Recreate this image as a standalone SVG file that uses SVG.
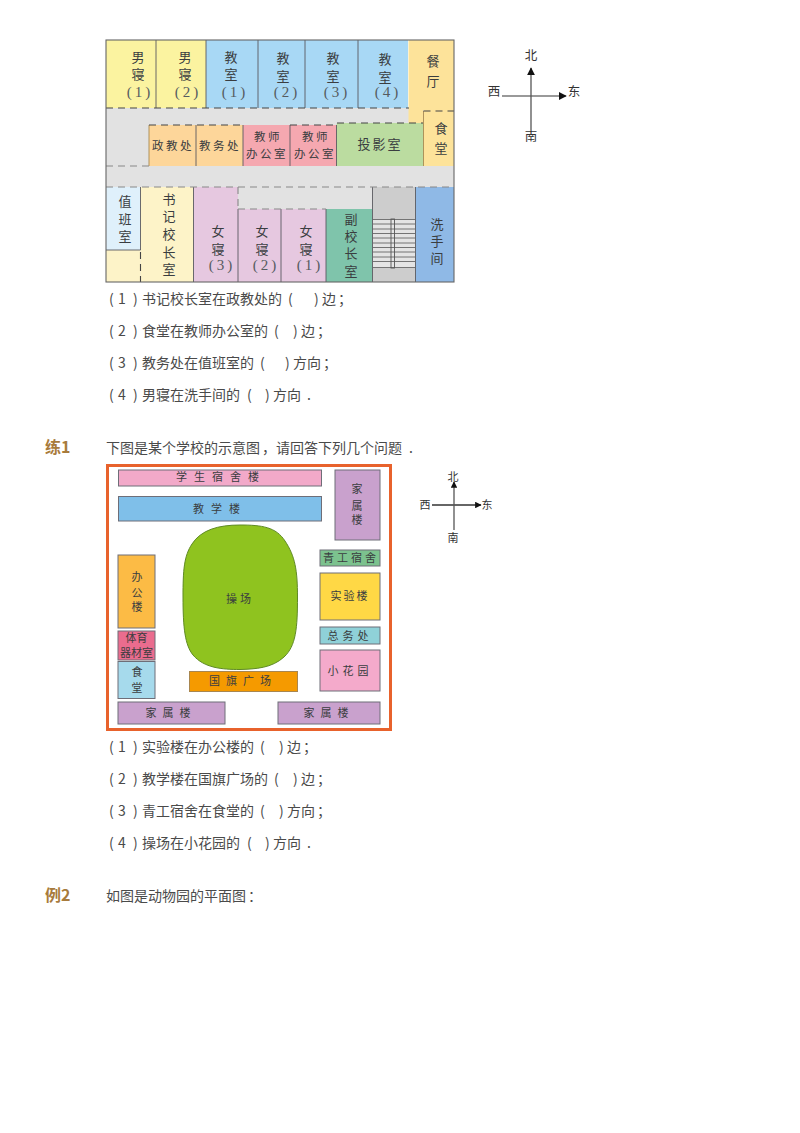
<svg xmlns="http://www.w3.org/2000/svg" width="800" height="1133" viewBox="0 0 800 1133">
<defs>
<marker id="ah" viewBox="0 0 10 10" refX="9" refY="5" markerWidth="8" markerHeight="8" markerUnits="userSpaceOnUse" orient="auto"><path d="M0 0L10 5L0 10Z" fill="#111"/></marker>
<marker id="ah2" viewBox="0 0 10 10" refX="9" refY="5" markerWidth="6.500" markerHeight="6.500" markerUnits="userSpaceOnUse" orient="auto"><path d="M0 0L10 5L0 10Z" fill="#111"/></marker>
</defs>
<style>
text{font-family:"Noto Sans CJK SC","Noto Sans",sans-serif}
.b{font-size:14px;fill:#4a4a4a}
.h{font-size:16px;font-weight:700;fill:#a87b3c}
.l{font-size:13px;fill:#3a3d40;text-anchor:middle}
.m{font-size:11.500px;fill:#3a3d40;text-anchor:middle;letter-spacing:2.500px}
.v{font-size:11px;fill:#3a3d40;text-anchor:middle}
.s{font-size:12.500px;fill:#333;text-anchor:middle}
.n{font-family:"Liberation Serif",serif;font-size:15px;fill:#555b60;letter-spacing:3px}
.r{stroke:#6e6e78;stroke-width:1}
.d{fill:none;stroke:#444;stroke-width:1.100;stroke-dasharray:7 5}
.g{fill:none;stroke:#888;stroke-width:1.100;stroke-dasharray:7 5}
.w{stroke:#5a5a60;stroke-width:.9;fill:none}
</style>
<rect width="800" height="1133" fill="#fff"/>

<g id="plan1">
<rect id="corridor" x="106" y="108" width="348" height="174" fill="#e2e2e2"/>
<g id="room-m1"><rect x="106" y="40" width="50" height="68" fill="#fbf3a0"/><text class="l"><tspan x="138" y="62">男</tspan><tspan x="138" y="79">寝</tspan><tspan class="n" x="140" y="97">(1)</tspan></text></g>
<g id="room-m2"><rect x="156" y="40" width="50" height="68" fill="#fbf3a0"/><text class="l"><tspan x="185" y="62">男</tspan><tspan x="185" y="79">寝</tspan><tspan class="n" x="188" y="97">(2)</tspan></text></g>
<g id="room-c1"><rect x="206" y="40" width="52" height="68" fill="#a8d8f5"/><text class="l"><tspan x="231" y="62">教</tspan><tspan x="231" y="79">室</tspan><tspan class="n" x="235" y="97">(1)</tspan></text></g>
<g id="room-c2"><rect x="258" y="40" width="47" height="68" fill="#a8d8f5"/><text class="l"><tspan x="283" y="63">教</tspan><tspan x="283" y="81">室</tspan><tspan class="n" x="287" y="97">(2)</tspan></text></g>
<g id="room-c3"><rect x="305" y="40" width="53" height="68" fill="#a8d8f5"/><text class="l"><tspan x="333" y="63">教</tspan><tspan x="333" y="81">室</tspan><tspan class="n" x="337" y="97">(3)</tspan></text></g>
<g id="room-c4"><rect x="358" y="40" width="50" height="68" fill="#a8d8f5"/><text class="l"><tspan x="385" y="64">教</tspan><tspan x="385" y="82">室</tspan><tspan class="n" x="388" y="97">(4)</tspan></text></g>
<g id="room-dining"><path d="M408.500 40H454V110H423V123H408.500Z" fill="#fde39a"/><text class="l"><tspan x="433" y="66">餐</tspan><tspan x="433" y="86">厅</tspan></text></g>
<g id="room-canteen"><rect x="423.500" y="110" width="30.500" height="56" fill="#fde39a"/><text class="l"><tspan x="441" y="133">食</tspan><tspan x="441" y="153">堂</tspan></text></g>
<g id="room-zj"><rect x="149" y="125" width="47" height="41" fill="#fdd69a"/><text class="m" x="173" y="150">政教处</text></g>
<g id="room-jw"><rect x="196" y="125" width="47" height="41" fill="#fdd69a"/><text class="m" x="220" y="150">教务处</text></g>
<g id="room-t1"><rect x="243" y="125" width="47" height="41" fill="#f5a8b0"/><text class="m"><tspan x="268" y="141">教师</tspan><tspan x="267" y="158">办公室</tspan></text></g>
<g id="room-t2"><rect x="290" y="125" width="46.500" height="41" fill="#f5a8b0"/><text class="m"><tspan x="316" y="141">教师</tspan><tspan x="315" y="158">办公室</tspan></text></g>
<g id="room-proj"><path d="M336.500 125L337 123H423.500V166H336.500Z" fill="#bbdca0"/><text class="l" x="380" y="149" style="letter-spacing:2px">投影室</text></g>
<g id="room-duty"><rect x="106" y="187" width="34.500" height="63" fill="#dff0fb"/><text class="l"><tspan x="125" y="206">值</tspan><tspan x="125" y="224">班</tspan><tspan x="125" y="241">室</tspan></text></g>
<rect id="room-duty-lower" x="106" y="250" width="34.500" height="32" fill="#fdf3c8"/>
<g id="room-sj"><rect x="140.500" y="187" width="53" height="95" fill="#fdf3c8"/><text class="l"><tspan x="169" y="204">书</tspan><tspan x="169" y="221">记</tspan><tspan x="169" y="239">校</tspan><tspan x="169" y="257">长</tspan><tspan x="169" y="274">室</tspan></text></g>
<g id="room-f3"><rect x="193.500" y="187" width="44.500" height="95" fill="#e6c8e0"/><text class="l"><tspan x="218" y="236">女</tspan><tspan x="218" y="254">寝</tspan><tspan class="n" x="222" y="270">(3)</tspan></text></g>
<g id="room-f2"><rect x="238" y="209" width="43" height="73" fill="#e6c8e0"/><text class="l"><tspan x="262" y="236">女</tspan><tspan x="262" y="254">寝</tspan><tspan class="n" x="266" y="270">(2)</tspan></text></g>
<g id="room-f1"><rect x="281" y="209" width="45" height="73" fill="#e6c8e0"/><text class="l"><tspan x="306" y="236">女</tspan><tspan x="306" y="254">寝</tspan><tspan class="n" x="310" y="270">(1)</tspan></text></g>
<g id="room-fx"><rect x="326" y="209" width="46.500" height="73" fill="#7fc4ab"/><text class="l"><tspan x="351" y="224">副</tspan><tspan x="351" y="241">校</tspan><tspan x="351" y="258">长</tspan><tspan x="351" y="276">室</tspan></text></g>
<g id="stairs"><rect x="372.500" y="187" width="43" height="95" fill="#cdcdcd"/>
<rect x="373" y="219" width="42" height="49" fill="#e4e4e4"/>
<path d="M373 219.500H415M373 224H415M373 229H415M373 233.500H415M373 238H415M373 243H415M373 247.500H415M373 252H415M373 257H415M373 261.500H415M373 267.500H415" stroke="#666" stroke-width=".9" fill="none"/>
<rect x="391" y="219" width="3.500" height="49" fill="none" stroke="#555" stroke-width=".9"/></g>
<g id="room-wc"><rect x="415.500" y="187" width="38.500" height="95" fill="#8fb9e6"/><text class="l"><tspan x="437" y="229">洗</tspan><tspan x="437" y="246">手</tspan><tspan x="437" y="263">间</tspan></text></g>
<g id="walls">
<path class="w" d="M156 40V108M206 40V108M258 40V108M305 40V108M358 40V108M196 125V166M243 125V166M290 125V166M336.500 125V166M140.500 250V187M106 250H140.500M193.500 187V282M238 209V282M281 209V282M326 209V282M372.500 187V282M415.500 187V282"/>
<path d="M149 125V166M423.500 111V166" fill="none" stroke="#a88a50" stroke-width=".9"/>
<path class="d" d="M106 108H409M149 125H243M290 125H337M337 123H423M423.500 111H454"/>
<path class="d" d="M140.500 252V282"/>
<path class="g" d="M106 166H149M106 187H454M238 187V209M238 209H326"/>
<rect x="106" y="40" width="348" height="242" fill="none" stroke="#666" stroke-width="1.100"/>
</g>
</g>

<g id="compass1" class="connectors">
<path d="M502 96H566" stroke="#777" stroke-width="1.300" marker-end="url(#ah)" fill="none"/>
<path d="M531 130V68" stroke="#555" stroke-width="1.300" marker-end="url(#ah)" fill="none"/>
<text class="s" x="531" y="60">北</text><text class="s" x="494" y="96">西</text><text class="s" x="574" y="96">东</text><text class="s" x="531" y="141">南</text>
</g>

<g id="q1">
<text class="b" y="304"><tspan x="109">(</tspan><tspan x="118">1</tspan><tspan x="133">)</tspan><tspan x="142">书记校长室在政教处的</tspan><tspan x="288">(</tspan><tspan x="314">)</tspan><tspan x="322">边</tspan><tspan x="338">；</tspan></text>
<text class="b" y="336"><tspan x="109">(</tspan><tspan x="118">2</tspan><tspan x="133">)</tspan><tspan x="142">食堂在教师办公室的</tspan><tspan x="274">(</tspan><tspan x="293">)</tspan><tspan x="301">边</tspan><tspan x="317">；</tspan></text>
<text class="b" y="368"><tspan x="109">(</tspan><tspan x="118">3</tspan><tspan x="133">)</tspan><tspan x="142">教务处在值班室的</tspan><tspan x="260">(</tspan><tspan x="285">)</tspan><tspan x="293">方向</tspan><tspan x="323">；</tspan></text>
<text class="b" y="400"><tspan x="109">(</tspan><tspan x="118">4</tspan><tspan x="133">)</tspan><tspan x="142">男寝在洗手间的</tspan><tspan x="247">(</tspan><tspan x="265">)</tspan><tspan x="273">方向</tspan><tspan x="307">.</tspan></text>
</g>

<text class="h" x="45" y="453">练1</text>
<text class="b" y="453"><tspan x="106">下图是某个学校的示意图</tspan><tspan x="262">，</tspan><tspan x="276">请回答下列几个问题</tspan><tspan x="409">.</tspan></text>

<g id="plan2">
<rect id="frame" x="107.500" y="465.500" width="283" height="264" fill="#fff" stroke="#e8622c" stroke-width="3"/>
<g id="b-dorm"><rect class="r" x="118.500" y="470" width="203" height="16" fill="#f2a9c9"/><text class="v" x="221" y="481" style="letter-spacing:7px">学生宿舍楼</text></g>
<g id="b-teach"><rect class="r" x="118.500" y="496.500" width="203" height="24.500" fill="#7fbfe9"/><text class="v" x="220" y="513" style="letter-spacing:7px">教学楼</text></g>
<g id="b-fam1"><rect class="r" x="335" y="470" width="45" height="70" fill="#c9a1cd"/><text class="v"><tspan x="357" y="493">家</tspan><tspan x="357" y="510">属</tspan><tspan x="357" y="524">楼</tspan></text></g>
<g id="b-young"><rect class="r" x="320" y="550" width="60" height="16" fill="#7cc28e"/><text class="v" x="351" y="562" style="letter-spacing:3px">青工宿舍</text></g>
<g id="b-lab"><rect class="r" x="320" y="573" width="60" height="47" fill="#ffd845"/><text class="v" x="350" y="600" style="letter-spacing:2px">实验楼</text></g>
<g id="b-office2"><rect class="r" x="320" y="627" width="60" height="17" fill="#8fd1d8"/><text class="v" x="350" y="640" style="letter-spacing:4px">总务处</text></g>
<g id="b-garden"><rect class="r" x="320" y="650" width="60" height="41" fill="#f4aacb"/><text class="v" x="350" y="675" style="letter-spacing:4px">小花园</text></g>
<g id="b-fam3"><rect class="r" x="278" y="702" width="102" height="22" fill="#c9a1cd"/><text class="v" x="329" y="717" style="letter-spacing:6px">家属楼</text></g>
<g id="b-fam2"><rect class="r" x="118" y="702" width="107" height="22" fill="#c9a1cd"/><text class="v" x="171" y="717" style="letter-spacing:6px">家属楼</text></g>
<g id="b-flag"><rect x="189.500" y="671.500" width="108" height="20" fill="#f59a00" stroke="#a8864f"/><text class="v" x="243" y="685" style="letter-spacing:6px">国旗广场</text></g>
<g id="b-canteen"><rect class="r" x="118" y="661.500" width="37" height="37" fill="#a6daec"/><text class="v"><tspan x="137" y="676">食</tspan><tspan x="137" y="692">堂</tspan></text></g>
<g id="b-gym"><rect class="r" x="118" y="631" width="37" height="29" fill="#ea6c8e"/><text class="v"><tspan x="136.500" y="642">体育</tspan><tspan x="136.500" y="656.500">器材室</tspan></text></g>
<g id="b-office"><rect class="r" x="118" y="555" width="37" height="73" fill="#fcbb45"/><text class="v"><tspan x="137" y="581">办</tspan><tspan x="137" y="597">公</tspan><tspan x="137" y="611">楼</tspan></text></g>
<g id="b-field"><path d="M240 525C262 525 276 527 285 541C295 556 297.500 570 297.500 597C297.500 628 296 646 284 657C272 668 256 669 240 669.500C222 669.500 204 668 193 655C185 645 183 628 183 597C183 570 184 556 192 544C201 530 218 525 240 525Z" fill="#8fc31f" stroke="#5f8a25" stroke-width="1"/><text class="v" x="240" y="603" style="letter-spacing:3px">操场</text></g>
</g>

<g id="compass2" class="connectors">
<path d="M432 505H481" stroke="#333" stroke-width="1.300" marker-end="url(#ah2)" fill="none"/>
<path d="M454 530V482" stroke="#555" stroke-width="1.300" marker-end="url(#ah2)" fill="none"/>
<text class="s" x="453" y="481" style="font-size:11px">北</text><text class="s" x="425" y="509" style="font-size:11px">西</text><text class="s" x="487" y="509" style="font-size:11px">东</text><text class="s" x="453" y="542" style="font-size:11px">南</text>
</g>

<g id="q2">
<text class="b" y="752"><tspan x="109">(</tspan><tspan x="118">1</tspan><tspan x="133">)</tspan><tspan x="142">实验楼在办公楼的</tspan><tspan x="260">(</tspan><tspan x="279">)</tspan><tspan x="287">边</tspan><tspan x="303">；</tspan></text>
<text class="b" y="784"><tspan x="109">(</tspan><tspan x="118">2</tspan><tspan x="133">)</tspan><tspan x="142">教学楼在国旗广场的</tspan><tspan x="274">(</tspan><tspan x="293">)</tspan><tspan x="301">边</tspan><tspan x="317">；</tspan></text>
<text class="b" y="816"><tspan x="109">(</tspan><tspan x="118">3</tspan><tspan x="133">)</tspan><tspan x="142">青工宿舍在食堂的</tspan><tspan x="260">(</tspan><tspan x="279">)</tspan><tspan x="287">方向</tspan><tspan x="317">；</tspan></text>
<text class="b" y="848"><tspan x="109">(</tspan><tspan x="118">4</tspan><tspan x="133">)</tspan><tspan x="142">操场在小花园的</tspan><tspan x="247">(</tspan><tspan x="265">)</tspan><tspan x="273">方向</tspan><tspan x="307">.</tspan></text>
</g>

<text class="h" x="45" y="901">例2</text>
<text class="b" y="901"><tspan x="106">如图是动物园的平面图</tspan><tspan x="248">：</tspan></text>
</svg>
